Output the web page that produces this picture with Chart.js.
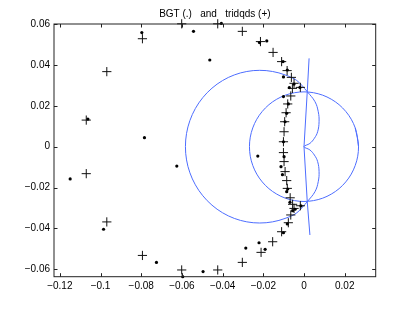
<!DOCTYPE html>
<html>
<head>
<meta charset="utf-8">
<script src="https://cdn.jsdelivr.net/npm/chart.js@4.4.1/dist/chart.umd.min.js"></script>
<style>
  html, body { margin: 0; padding: 0; background: #fff; }
  canvas { display: block; }
</style>
</head>
<body>
<canvas id="myChart" width="414" height="312"></canvas>
<script>
const titleText = "BGT (.)   and   tridqds (+)";

// axis ticks
const xTicks = [-0.12, -0.1, -0.08, -0.06, -0.04, -0.02, 0, 0.02];
const xTickLabels = ["\u22120.12", "\u22120.1", "\u22120.08", "\u22120.06", "\u22120.04", "\u22120.02", "0", "0.02"];
const yTicks = [-0.06, -0.04, -0.02, 0, 0.02, 0.04, 0.06];
const yTickLabels = ["\u22120.06", "\u22120.04", "\u22120.02", "0", "0.02", "0.04", "0.06"];

// BGT eigenvalues (.)
const bgtX = [-0.0406, -0.0543, -0.0797, -0.0463, -0.0219, -0.0183, -0.0103, -0.0082, -0.0101, -0.0049,
  -0.0072, -0.0020, -0.0101, -0.0077, -0.0085, -0.0093, -0.1062, -0.0784, -0.0101, -0.0227,
  -0.0098, -0.0625, -0.0113, -0.0106, -0.1149, -0.0080, -0.0085, -0.0069, -0.0056, -0.0044,
  -0.0015, -0.0082, -0.0101, -0.0221, -0.0286, -0.0191, -0.0985, -0.0725, -0.0496, -0.0596];
const bgtY = [0.0603, 0.0564, 0.0558, 0.0424, 0.0509, 0.0517, 0.0416, 0.0375, 0.0341, 0.0306,
  0.0289, 0.0290, 0.0245, 0.0209, 0.0163, 0.0122, 0.0135, 0.0044, 0.0024, -0.0046,
  -0.0049, -0.0095, -0.0098, -0.0137, -0.0158, -0.0207, -0.0220, -0.0272, -0.0313, -0.0306,
  -0.0290, -0.0378, -0.0421, -0.0470, -0.0496, -0.0502, -0.0404, -0.0566, -0.0611, -0.0636];

// tridqds eigenvalues (+)
const qdsX = [-0.0601, -0.0424, -0.0303, -0.0214, -0.0152, -0.0110, -0.0083, -0.0062, -0.0049, -0.0057,
  -0.0018, -0.0065, -0.0080, -0.0088, -0.0095, -0.0098, -0.0101, -0.0794, -0.0969, -0.1070,
  -0.0601, -0.0424, -0.0303, -0.0211, -0.0154, -0.0110, -0.0077, -0.0065, -0.0049, -0.0056,
  -0.0018, -0.0068, -0.0082, -0.0085, -0.0093, -0.0098, -0.0101, -0.0794, -0.0969, -0.1070];
const qdsY = [0.0601, 0.0601, 0.0564, 0.0514, 0.0461, 0.0416, 0.0372, 0.0339, 0.0310, 0.0285,
  0.0290, 0.0248, 0.0209, 0.0166, 0.0122, 0.0073, 0.0024, 0.0528, 0.0367, 0.0130,
  -0.0603, -0.0603, -0.0566, -0.0517, -0.0465, -0.0416, -0.0372, -0.0334, -0.0302, -0.0282,
  -0.0289, -0.0250, -0.0204, -0.0166, -0.0122, -0.0073, -0.0029, -0.0532, -0.0368, -0.0132];

// blue curves
const bigArcX = [0.00164, -0.00352, -0.00929, -0.01543, -0.02177, -0.02811, -0.03425, -0.04002, -0.04523,
  -0.04973, -0.05338, -0.05607, -0.05772, -0.05827, -0.05772, -0.05607, -0.05338, -0.04973,
  -0.04523, -0.04002, -0.03425, -0.02811, -0.02177, -0.01543, -0.00929, -0.00352, 0.00164];
const bigArcY = [0.0269, 0.03234, 0.03509, 0.03677, 0.03734, 0.03677, 0.03509, 0.03234, 0.0286,
  0.024, 0.01867, 0.01277, 0.00648, 0, -0.00648, -0.01277, -0.01867, -0.024,
  -0.0286, -0.03234, -0.03509, -0.03677, -0.03734, -0.03677, -0.03509, -0.03234, -0.0269];

const circleX = [0.0268, 0.02518, 0.02053, 0.0134, 0.00465, -0.00465, -0.0134, -0.02053, -0.02518, -0.0268,
  -0.02518, -0.02053, -0.0134, -0.00465, 0.00465, 0.0134, 0.02053, 0.02518, 0.0268, 0.02518];
const circleY = [0, 0.00917, 0.01723, 0.02321, 0.02639, 0.02639, 0.02321, 0.01723, 0.00917, 0,
  -0.00917, -0.01723, -0.02321, -0.02639, -0.02639, -0.02321, -0.01723, -0.00917, 0, 0.00917];

const stemX = [0.0025, 0.0016, 0, 0.0016, 0.0029];
const stemY = [0.0432, 0.0269, 0, -0.0269, -0.0432];

const lobeX = [0.00164, 0.0054, 0.0070, 0.0074, 0.0067, 0.0051, 0.0029, 0,
  0.0029, 0.0051, 0.0067, 0.0074, 0.0070, 0.0054, 0.00164];
const lobeY = [0.0269, 0.0220, 0.0171, 0.0122, 0.0073, 0.0041, 0.0016, 0,
  -0.0016, -0.0041, -0.0073, -0.0122, -0.0171, -0.0220, -0.0269];

function pts(xs, ys) {
  return xs.map((x, i) => ({ x: x, y: ys[i] }));
}

const fontFamily = '"Liberation Sans", Arial, Helvetica, sans-serif';
const blue = "#4d6dff";

function curve(xs, ys, tension) {
  return {
    data: pts(xs, ys),
    showLine: true,
    borderColor: blue,
    borderWidth: 1,
    pointRadius: 0,
    tension: tension,
    fill: false
  };
}

// draws the box, inward ticks on all sides and the title
const matlabAxes = {
  id: "matlabAxes",
  afterDraw(chart) {
    const ctx = chart.ctx;
    const a = chart.chartArea;
    const sx = chart.scales.x;
    const sy = chart.scales.y;
    const tl = 3.5;
    ctx.save();
    ctx.strokeStyle = "#222";
    ctx.lineWidth = 1;
    ctx.strokeRect(a.left, a.top, a.right - a.left, a.bottom - a.top);
    ctx.beginPath();
    xTicks.forEach(v => {
      const px = Math.round(sx.getPixelForValue(v)) + 0.5;
      ctx.moveTo(px, a.bottom); ctx.lineTo(px, a.bottom - tl);
      ctx.moveTo(px, a.top); ctx.lineTo(px, a.top + tl);
    });
    yTicks.forEach(v => {
      const py = Math.round(sy.getPixelForValue(v)) + 0.5;
      ctx.moveTo(a.left, py); ctx.lineTo(a.left + tl, py);
      ctx.moveTo(a.right, py); ctx.lineTo(a.right - tl, py);
    });
    ctx.stroke();
    ctx.fillStyle = "#000";
    ctx.font = "10px " + fontFamily;
    ctx.textAlign = "center";
    ctx.textBaseline = "alphabetic";
    ctx.fillText(titleText, (a.left + a.right) / 2, 16.5);
    ctx.restore();
  }
};

const ctx = document.getElementById("myChart").getContext("2d");
new Chart(ctx, {
  type: "scatter",
  data: {
    datasets: [
      {
        data: pts(bgtX, bgtY),
        pointStyle: "circle",
        pointRadius: 1.6,
        pointBackgroundColor: "#000",
        pointBorderWidth: 0,
        clip: false
      },
      {
        data: pts(qdsX, qdsY),
        pointStyle: "cross",
        pointRadius: 4.6,
        pointBorderColor: "#111",
        pointBorderWidth: 1,
        clip: false
      },
      curve(bigArcX, bigArcY, 0.35),
      curve(circleX, circleY, 0.35),
      curve(stemX, stemY, 0),
      curve(lobeX, lobeY, 0.4)
    ]
  },
  options: {
    responsive: false,
    devicePixelRatio: 1,
    animation: false,
    events: [],
    layout: { padding: { left: 0, top: 24, right: 38.3, bottom: 0 } },
    scales: {
      x: {
        type: "linear",
        min: -0.12285,
        max: 0.03523,
        grid: { display: false, drawTicks: false },
        border: { display: false },
        afterBuildTicks: (scale) => { scale.ticks = xTicks.map(v => ({ value: v })); },
        afterFit: (scale) => { scale.height = 35.3; },
        ticks: {
          autoSkip: false,
          maxRotation: 0,
          padding: 4,
          color: "#000",
          font: { family: fontFamily, size: 10 },
          callback: (v, i) => xTickLabels[i]
        }
      },
      y: {
        type: "linear",
        min: -0.0636,
        max: 0.06,
        grid: { display: false, drawTicks: false },
        border: { display: false },
        afterBuildTicks: (scale) => { scale.ticks = yTicks.map(v => ({ value: v })); },
        afterFit: (scale) => { scale.width = 54; },
        ticks: {
          autoSkip: false,
          padding: 4,
          color: "#000",
          font: { family: fontFamily, size: 10 },
          callback: (v, i) => yTickLabels[i]
        }
      }
    },
    plugins: {
      legend: { display: false },
      title: { display: false },
      tooltip: { enabled: false }
    }
  },
  plugins: [matlabAxes]
});
</script>
</body>
</html>
